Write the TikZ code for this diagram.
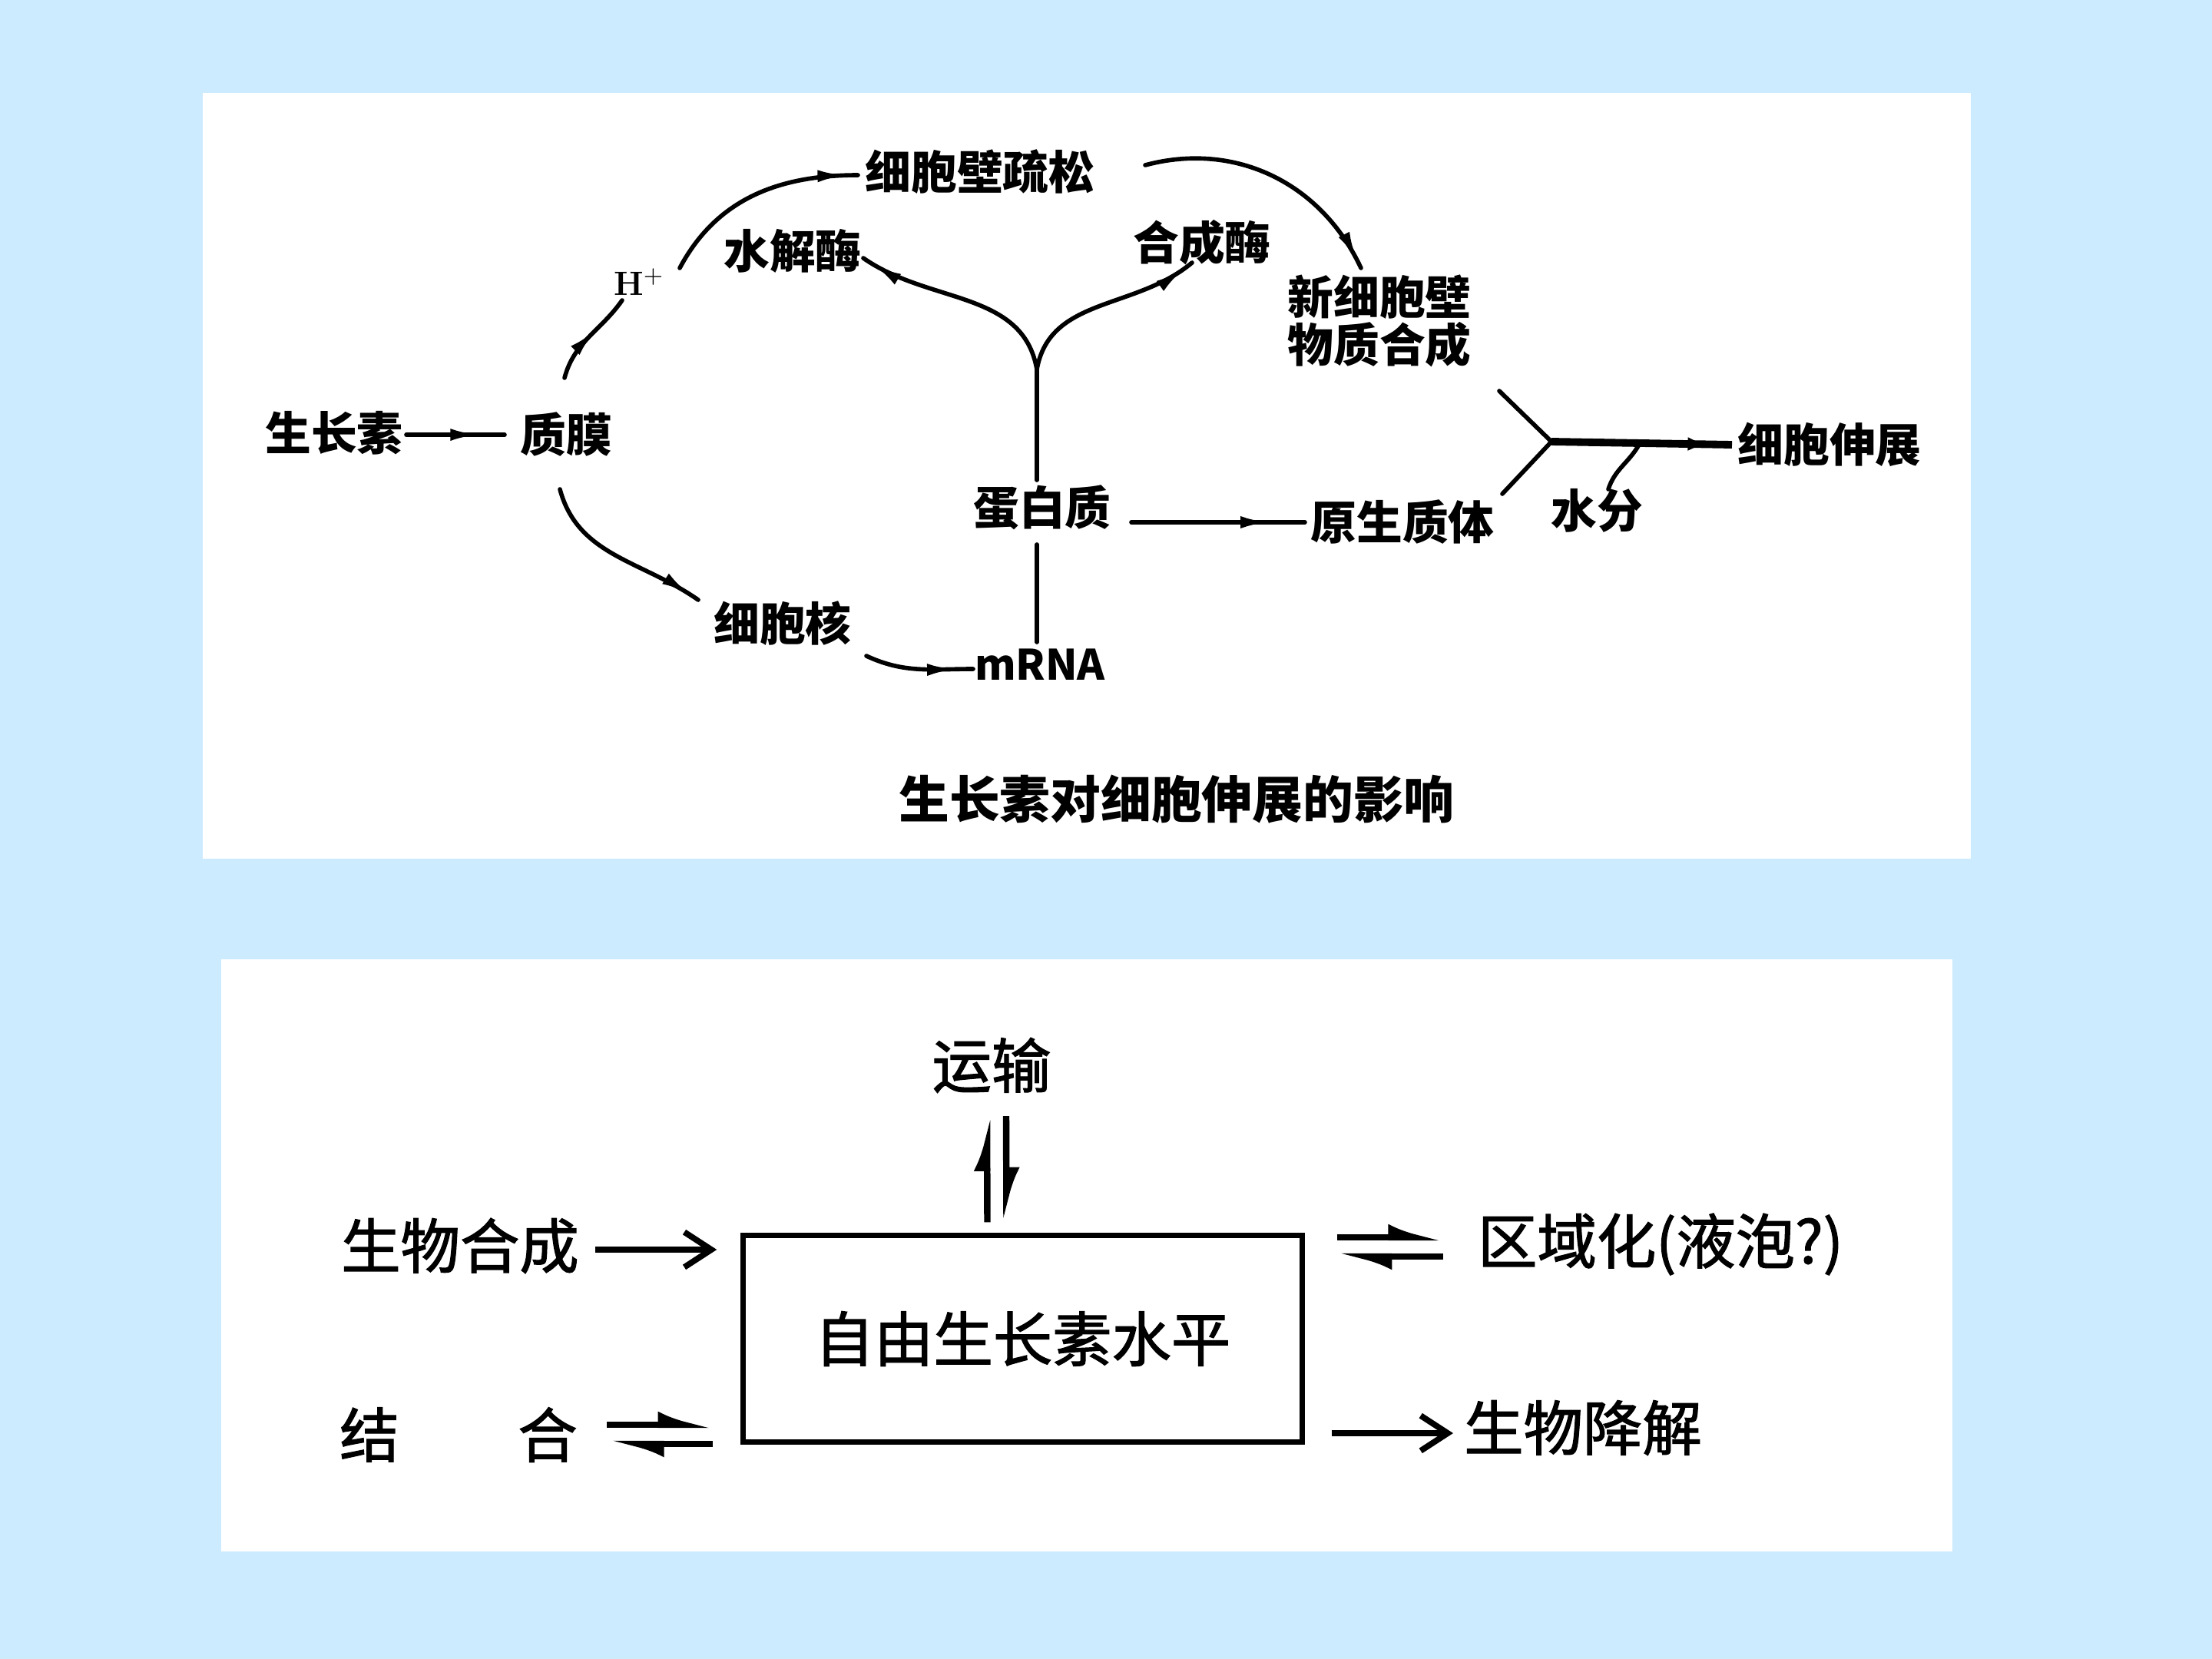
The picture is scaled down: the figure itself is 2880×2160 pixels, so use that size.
\documentclass[tikz,border=0pt]{standalone}
\usepackage{fontspec}
\newfontfamily\cjk{Noto Sans CJK SC}
\newfontfamily\cjkm[FakeBold=1.6]{Noto Sans CJK SC}
\usetikzlibrary{arrows.meta,decorations.markings,calc}
\definecolor{bgblue}{RGB}{204,235,255}
\begin{document}
\begin{tikzpicture}[x=0.01cm,y=0.01cm,
  ttxt/.style={font={\cjk\bfseries\fontsize{17pt}{16.5pt}\selectfont}, inner sep=0pt},
  btxt/.style={font={\cjkm\fontsize{22pt}{24pt}\selectfont}, inner sep=0pt},
  captxt/.style={font={\cjk\bfseries\fontsize{18.7pt}{22pt}\selectfont}, inner sep=0pt},
  ln/.style={line width=1.6pt, line cap=round},
  marr/.style={postaction={decorate},decoration={markings,mark=at position #1 with {\arrow{Latex[length=11pt,width=4.5pt]}}}},
  harp/.style={line width=2.4pt, -{Latex[left,length=15pt,width=10pt]}},
  barr/.style={line width=2.2pt, -{Straight Barb[length=10pt,width=13pt]}}]
\fill[bgblue] (0,0) rectangle (2880,-2160);
\useasboundingbox (0,0) rectangle (2880,-2160);
\fill[white] (264,-121) rectangle (2566,-1118);
\fill[white] (288,-1249) rectangle (2542,-2020);

% ---------- top diagram ----------
\node[ttxt] (szs) at (435,-564) {生长素};
\node[ttxt] (zm) at (737,-566) {质膜};
\node[font={\bfseries\fontsize{12.5pt}{14pt}\selectfont}, inner sep=0pt] (Hp) at (832,-367) {H$^{+}$};
\node[ttxt] (xbb) at (1276,-224) {细胞壁疏松};
\node[ttxt] (sjm) at (1032,-327) {水解酶};
\node[ttxt] (hcm) at (1565,-316) {合成酶};
\node[ttxt, align=center] (xxb) at (1796,-418) {新细胞壁\\物质合成};
\node[ttxt] (dbz) at (1357,-661) {蛋白质};
\node[ttxt, font={\cjk\bfseries\fontsize{15.5pt}{17pt}\selectfont}] (mrna) at (1354,-865) {mRNA};
\node[ttxt] (xbh) at (1019,-812) {细胞核};
\node[ttxt] (ysz) at (1826,-680) {原生质体};
\node[ttxt] (xbsz) at (2382,-579) {细胞伸展};
\node[ttxt] (sf) at (2079,-665) {水分};
\node[captxt] (capt) at (1532,-1041) {生长素对细胞伸展的影响};
\coordinate (jY) at (1350,-481);
\coordinate (jR) at (2020,-575);
\coordinate (jW) at (2134,-579);

\draw[ln, marr=0.75] ($(szs)+(94,-2)$) -- ($(zm)+(-80,0)$);
\draw[ln, marr=0.6] ($(zm)+(-2,74)$) to[out=75,in=-125] ($(Hp)+(-22,-24)$);
\draw[ln, marr=0.95] ($(Hp)+(53,18)$) to[out=62,in=180] ($(xbb)+(-159,-4)$);
\draw[ln, marr=0.97] ($(xbb)+(215,9)$) to[out=15,in=115] ($(xxb)+(-24,69)$);
\draw[ln, marr=0.95] (jY) to[out=100,in=-35] ($(sjm)+(92,-9)$);
\draw[ln, marr=0.95] (jY) to[out=80,in=-140] ($(hcm)+(-13,-26)$);
\draw[ln] (jY) -- ($(dbz)+(-7,36)$);
\draw[ln] ($(mrna)+(-4,29)$) -- ($(dbz)+(-7,-48)$);
\draw[ln, marr=0.95] ($(zm)+(-8,-71)$) to[out=-75,in=145] ($(xbh)+(-110,31)$);
\draw[ln, marr=0.85] ($(xbh)+(109,-42)$) to[out=-25,in=180] ($(mrna)+(-87,-6)$);
\draw[ln, marr=0.8] ($(dbz)+(116,-19)$) -- ($(ysz)+(-127,0)$);
\draw[ln] ($(xxb)+(156,-91)$) -- (jR);
\draw[ln] ($(ysz)+(130,37)$) -- (jR);
\draw[line width=2.8pt, marr=0.92] (jR) -- ($(xbsz)+(-127,0)$);
\draw[ln] ($(sf)+(15,28)$) to[out=72,in=240] (jW);

% ---------- bottom diagram ----------
\node[btxt] (ys) at (1291,-1387) {运输};
\node[btxt, draw, line width=2pt, minimum width=7.27cm, minimum height=2.68cm] (box) at (1331.5,-1743) {自由生长素水平};
\node[btxt] (swhc) at (599,-1622) {生物合成};
\node[btxt] (jie) at (481,-1868) {结};
\node[btxt] (he) at (713,-1868) {合};
\node[btxt] (qyh) at (2162,-1620) {区域化(液泡?)};
\node[btxt] (swjj) at (2061,-1859) {生物降解};

\draw[barr] ($(swhc)+(176,-5)$) -- ($(box.west)+(-31,116)$);
\draw[harp] ($(he)+(77,13)$) -- ($(box.west)+(-36,-112)$);
\draw[harp] ($(box.west)+(-36,-137)$) -- ($(he)+(80,-12)$);
\draw[harp] ($(box.east)+(42,132)$) -- ($(qyh)+(-283,9)$);
\draw[harp] ($(qyh)+(-283,-16)$) -- ($(box.east)+(42,107)$);
\draw[barr] ($(box.east)+(35,-123)$) -- ($(swjj)+(-169,-7)$);
\draw[harp] ($(box.north)+(-46,14)$) -- ($(ys)+(-6,-66)$);
\draw[harp] ($(ys)+(19,-66)$) -- ($(box.north)+(-21,14)$);
\end{tikzpicture}
\end{document}
